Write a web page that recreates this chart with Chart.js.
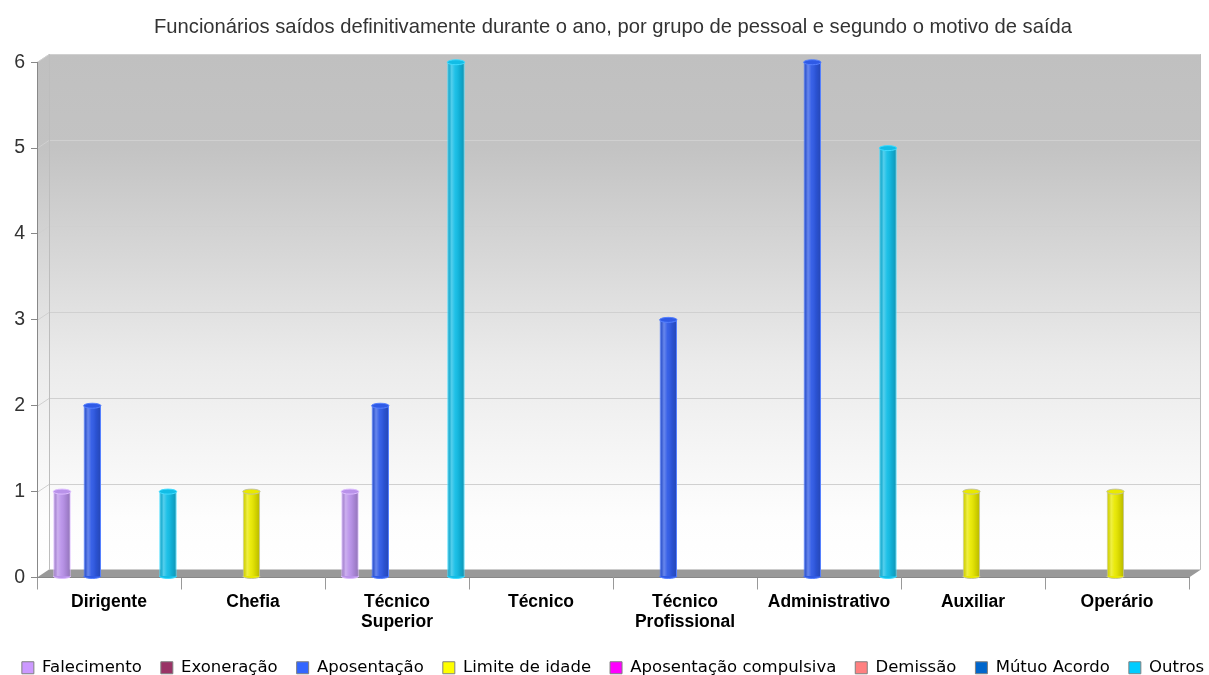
<!DOCTYPE html>
<html><head><meta charset="utf-8">
<script src="https://cdn.jsdelivr.net/npm/chart.js@4/dist/chart.umd.min.js"></script>
<style>html,body{margin:0;padding:0;background:#fff;overflow:hidden}#wrap{width:1209px;height:675px;position:relative}canvas{display:block}</style>
</head><body><div id="wrap"><canvas id="c" width="1209" height="675"></canvas></div>
<script>
const chartTitle = 'Funcionários saídos definitivamente durante o ano, por grupo de pessoal e segundo o motivo de saída';
const categories = [['Dirigente'], ['Chefia'], ['Técnico', 'Superior'], ['Técnico'], ['Técnico', 'Profissional'], ['Administrativo'], ['Auxiliar'], ['Operário']];
const seriesNames = ['Falecimento', 'Exoneração', 'Aposentação', 'Limite de idade', 'Aposentação compulsiva', 'Demissão', 'Mútuo Acordo', 'Outros'];
const seriesColors = ['#CC99FF', '#993366', '#3366FF', '#FFFF00', '#FF00FF', '#FF8080', '#0066CC', '#00CCFF'];
const barColors = ['#b992ea', '#8a2e5c', '#2f5ae6', '#e9e900', '#e600e6', '#e87373', '#005cb8', '#12bde6'];
const barBorders = ['#dcbcff', '#b0567f', '#5580ff', '#c4c4a0', '#ff66ff', '#ffa0a0', '#3380d6', '#40dcff'];
const falecimento = [1, 0, 1, 0, 0, 0, 0, 0];
const exoneracao = [0, 0, 0, 0, 0, 0, 0, 0];
const aposentacao = [2, 0, 2, 0, 3, 6, 0, 0];
const limiteIdade = [0, 1, 0, 0, 0, 0, 1, 1];
const aposentacaoCompulsiva = [0, 0, 0, 0, 0, 0, 0, 0];
const demissao = [0, 0, 0, 0, 0, 0, 0, 0];
const mutuoAcordo = [0, 0, 0, 0, 0, 0, 0, 0];
const outros = [1, 0, 6, 0, 0, 5, 0, 0];
const yTicks = [0, 1, 2, 3, 4, 5, 6];

const seriesValues = [falecimento, exoneracao, aposentacao, limiteIdade, aposentacaoCompulsiva, demissao, mutuoAcordo, outros];

const DX = 12, DY = -8, BAR_SHIFT = 6;

const wallPlugin = {
  id: 'wall3d',
  beforeDraw(chart) {
    const ctx = chart.ctx, a = chart.chartArea, y = chart.scales.y;
    const L = a.left, R = a.right, T = a.top, B = a.bottom;
    ctx.save();
    const g = ctx.createLinearGradient(0, T + DY, 0, B + DY);
    g.addColorStop(0, '#c0c0c0');
    g.addColorStop(0.18, '#c3c3c3');
    g.addColorStop(0.6, '#ebebeb');
    g.addColorStop(0.9, '#fdfdfd');
    g.addColorStop(1, '#ffffff');
    ctx.fillStyle = g;
    ctx.fillRect(L + DX, T + DY, R - L, B - T);
    ctx.beginPath();
    ctx.moveTo(L, T); ctx.lineTo(L + DX, T + DY); ctx.lineTo(L + DX, B + DY); ctx.lineTo(L, B); ctx.closePath();
    ctx.fill();
    ctx.strokeStyle = '#d0d0d0';
    ctx.lineWidth = 1;
    y.ticks.forEach(t => {
      if (t.value === 0) return;
      const py = Math.round(y.getPixelForValue(t.value)) + 0.5;
      ctx.beginPath();
      ctx.moveTo(L, py); ctx.lineTo(L + DX, py + DY); ctx.lineTo(R + DX, py + DY);
      ctx.stroke();
    });
    ctx.strokeStyle = '#bdbdbd';
    ctx.beginPath();
    ctx.moveTo(L + DX + 0.5, T + DY); ctx.lineTo(L + DX + 0.5, B + DY);
    ctx.moveTo(R + DX - 0.5, T + DY); ctx.lineTo(R + DX - 0.5, B + DY);
    ctx.stroke();
    ctx.fillStyle = '#999999';
    ctx.beginPath();
    ctx.moveTo(L, B); ctx.lineTo(L + DX, B + DY); ctx.lineTo(R + DX, B + DY); ctx.lineTo(R, B); ctx.closePath();
    ctx.fill();
    ctx.restore();
  },
  beforeDatasetsDraw(chart) {
    chart.ctx.save();
    chart.ctx.translate(BAR_SHIFT, 0);
  },
  afterDatasetsDraw(chart) {
    const ctx = chart.ctx;
    chart.data.datasets.forEach((ds, di) => {
      const meta = chart.getDatasetMeta(di);
      meta.data.forEach((el, i) => {
        if (!ds.data[i]) return;
        const p = el.getProps(['x', 'y', 'base', 'width'], true);
        const l = p.x - p.width / 2, r = p.x + p.width / 2;
        const g = ctx.createLinearGradient(l, 0, r, 0);
        g.addColorStop(0, 'rgba(0,0,0,0.05)');
        g.addColorStop(0.25, 'rgba(255,255,255,0.28)');
        g.addColorStop(0.45, 'rgba(255,255,255,0.05)');
        g.addColorStop(0.7, 'rgba(0,0,0,0.08)');
        g.addColorStop(1, 'rgba(0,0,0,0.22)');
        ctx.fillStyle = g;
        ctx.fillRect(l + 1, p.y, p.width - 2, p.base - p.y);
        ctx.beginPath();
        ctx.ellipse(p.x, p.base - 1, p.width / 2, 2.5, 0, 0, Math.PI);
        ctx.fillStyle = barColors[di];
        ctx.fill();
        ctx.strokeStyle = barBorders[di];
        ctx.lineWidth = 1;
        ctx.stroke();
        ctx.beginPath();
        ctx.ellipse(p.x, p.y, p.width / 2, 2.5, 0, 0, Math.PI * 2);
        ctx.fillStyle = barColors[di];
        ctx.fill();
        ctx.strokeStyle = barBorders[di];
        ctx.stroke();
      });
    });
    ctx.restore();
  }
};

new Chart(document.getElementById('c'), {
  type: 'bar',
  data: {
    labels: categories,
    datasets: seriesNames.map((name, i) => ({
      label: name,
      data: seriesValues[i],
      backgroundColor: barColors[i],
      borderColor: barBorders[i],
      borderWidth: ctx => (ctx.raw ? 1 : 0),
      borderSkipped: false,
      categoryPercentage: 0.841,
      barPercentage: 1.15
    }))
  },
  options: {
    responsive: false,
    animation: false,
    devicePixelRatio: 1,
    layout: { padding: { left: 0, right: -17, top: 0, bottom: -11 } },
    plugins: {
      tooltip: { enabled: false },
      title: {
        display: true,
        text: chartTitle,
        color: '#333333',
        font: { family: 'Liberation Sans', size: 20.2, weight: 'normal', lineHeight: 1.2 },
        padding: { top: 15, bottom: 23 }
      },
      legend: {
        position: 'bottom',
        labels: {
          boxWidth: 12,
          boxHeight: 12,
          padding: 19,
          color: '#000',
          font: { family: 'DejaVu Sans', size: 16.5 },
          generateLabels: chart => chart.data.datasets.map((ds, i) => ({
            text: ds.label,
            fillStyle: seriesColors[i],
            strokeStyle: '#808080',
            lineWidth: 1,
            hidden: false,
            datasetIndex: i,
            fontColor: '#000'
          }))
        }
      }
    },
    scales: {
      x: {
        offset: true,
        grid: { display: true, drawOnChartArea: false, drawTicks: true, tickLength: 12, color: '#999', offset: true },
        border: { display: true, color: '#888' },
        ticks: { color: '#000', padding: 2, maxRotation: 0, autoSkip: false, font: { family: 'Liberation Sans', size: 17.5, weight: 'bold', lineHeight: 1.17 } },
        afterFit: s => { s.height = 63; }
      },
      y: {
        min: 0, max: 6,
        afterBuildTicks: s => { s.ticks = yTicks.map(v => ({ value: v })); },
        grid: { display: true, drawOnChartArea: false, drawTicks: true, tickLength: 6, color: '#888' },
        border: { display: true, color: '#888' },
        ticks: { color: '#333', padding: 6, font: { family: 'Liberation Sans', size: 19.5 } },
        afterFit: s => { s.width = 37; }
      },
      y2: {
        position: 'right',
        display: true,
        min: 0, max: 6,
        grid: { display: false },
        border: { display: false },
        ticks: { display: false },
        afterFit: s => { s.width = 37; }
      }
    }
  },
  plugins: [wallPlugin]
});
</script>
</body></html>
